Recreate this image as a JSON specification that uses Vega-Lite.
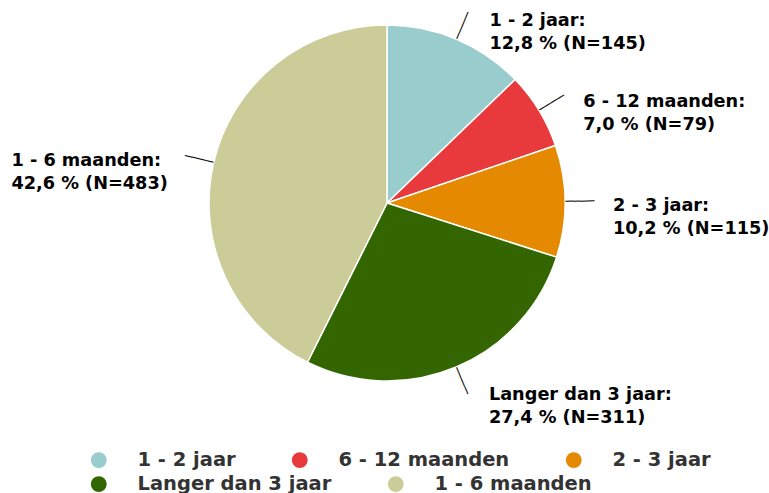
{
  "$schema": "https://vega.github.io/schema/vega-lite/v6.json",
  "width": 774,
  "height": 406,
  "padding": 0,
  "background": "white",
  "data": {
    "values": [
      {"cat": "1 - 2 jaar", "n": 145, "i": 1, "label": "1 - 2 jaar:\n12,8 % (N=145)"},
      {"cat": "6 - 12 maanden", "n": 79, "i": 2, "label": "6 - 12 maanden:\n7,0 % (N=79)"},
      {"cat": "2 - 3 jaar", "n": 115, "i": 3, "label": "2 - 3 jaar:\n10,2 % (N=115)"},
      {"cat": "Langer dan 3 jaar", "n": 311, "i": 4, "label": "Langer dan 3 jaar:\n27,4 % (N=311)"},
      {"cat": "1 - 6 maanden", "n": 483, "i": 5, "label": "1 - 6 maanden:\n42,6 % (N=483)"}
    ]
  },
  "layer": [
    {
      "transform": [
        {"stack": "n", "groupby": [], "sort": [{"field": "i"}], "as": ["s0", "s1"]},
        {"filter": {"field": "i", "lte": 3}}
      ],
      "mark": {"type": "arc", "outerRadius": 178, "stroke": "white", "strokeWidth": 1.5},
      "encoding": {
        "theta": {"field": "s0", "type": "quantitative"},
        "theta2": {"field": "s1"},
        "color": {
          "field": "cat",
          "type": "nominal",
          "scale": {
            "domain": ["1 - 2 jaar", "6 - 12 maanden", "2 - 3 jaar"],
            "range": ["#99cccc", "#e8393d", "#e58a00"]
          },
          "legend": {
            "title": null,
            "orient": "none",
            "legendX": 89,
            "legendY": 450,
            "padding": 0,
            "direction": "horizontal",
            "columnPadding": 54,
            "symbolType": "circle",
            "symbolSize": 250,
            "symbolStrokeWidth": 0,
            "labelFont": "DejaVu Sans",
            "labelFontWeight": "bold",
            "labelFontSize": 19.5,
            "labelColor": "#333333",
            "labelOffset": 29,
            "labelLimit": 0
          }
        }
      }
    },
    {
      "transform": [
        {"stack": "n", "groupby": [], "sort": [{"field": "i"}], "as": ["s0", "s1"]},
        {"filter": {"field": "i", "gt": 3}}
      ],
      "mark": {"type": "arc", "outerRadius": 178, "stroke": "white", "strokeWidth": 1.5},
      "encoding": {
        "theta": {"field": "s0", "type": "quantitative"},
        "theta2": {"field": "s1"},
        "fill": {
          "field": "cat",
          "type": "nominal",
          "scale": {
            "domain": ["Langer dan 3 jaar", "1 - 6 maanden"],
            "range": ["#336600", "#cccc99"]
          },
          "legend": {
            "title": null,
            "orient": "none",
            "legendX": 89,
            "legendY": 474,
            "padding": 0,
            "direction": "horizontal",
            "columnPadding": 54,
            "symbolType": "circle",
            "symbolSize": 250,
            "symbolStrokeWidth": 0,
            "labelFont": "DejaVu Sans",
            "labelFontWeight": "bold",
            "labelFontSize": 19.5,
            "labelColor": "#333333",
            "labelOffset": 29,
            "labelLimit": 0
          }
        }
      }
    },
    {
      "transform": [{"joinaggregate": [{"op": "sum", "field": "n", "as": "tot"}]}],
      "mark": {
        "type": "text",
        "radius": 193,
        "text": "────",
        "fontSize": 12,
        "font": "DejaVu Sans",
        "color": "black",
        "angle": {"expr": "(datum.n_start + datum.n_end) / 2 / datum.tot * 360 - 90"}
      },
      "encoding": {
        "theta": {"field": "n", "type": "quantitative", "stack": true},
        "order": {"field": "i", "type": "quantitative"}
      }
    },
    {
      "mark": {
        "type": "text",
        "radius": 203,
        "font": "DejaVu Sans",
        "fontWeight": "bold",
        "fontSize": 17.7,
        "lineHeight": 22.5,
        "lineBreak": "\n",
        "baseline": "top",
        "align": "left",
        "dy": -4,
        "color": "black",
        "dx": {"expr": "datum.cat === '1 - 6 maanden' ? -178 : 23"}
      },
      "encoding": {
        "theta": {"field": "n", "type": "quantitative", "stack": true},
        "order": {"field": "i", "type": "quantitative"},
        "text": {"field": "label"}
      }
    }
  ],
  "config": {"view": {"stroke": null}}
}
